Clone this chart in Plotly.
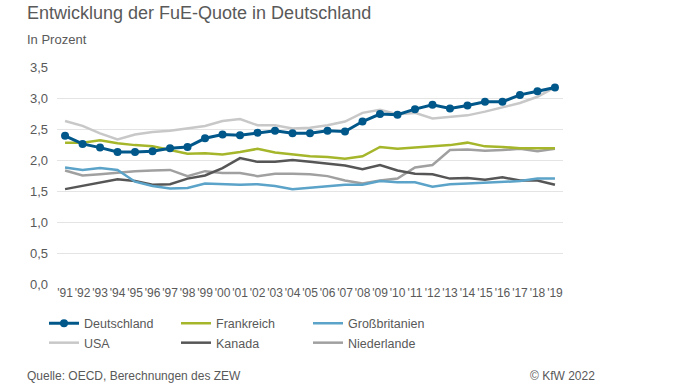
import plotly.graph_objects as go

years = ["'91","'92","'93","'94","'95","'96","'97","'98","'99","'00","'01","'02","'03","'04",
         "'05","'06","'07","'08","'09","'10","'11","'12","'13","'14","'15","'16","'17","'18","'19"]

deutschland = [2.39,2.26,2.20,2.13,2.13,2.14,2.19,2.21,2.35,2.41,2.40,2.44,2.47,2.43,
               2.43,2.47,2.46,2.62,2.74,2.73,2.82,2.89,2.83,2.88,2.94,2.94,3.05,3.11,3.17]
frankreich = [2.28,2.28,2.32,2.27,2.24,2.22,2.16,2.10,2.11,2.09,2.13,2.18,2.12,2.09,
              2.06,2.05,2.02,2.06,2.21,2.18,2.20,2.22,2.24,2.28,2.22,2.21,2.19,2.19,2.19]
grossbritannien = [1.88,1.84,1.87,1.84,1.65,1.58,1.54,1.55,1.62,1.61,1.60,1.61,1.58,1.53,
                   1.55,1.57,1.60,1.60,1.66,1.64,1.64,1.57,1.61,1.62,1.63,1.64,1.66,1.70,1.70]
usa = [2.63,2.55,2.43,2.33,2.41,2.45,2.47,2.51,2.55,2.63,2.66,2.56,2.56,2.51,
       2.52,2.56,2.62,2.76,2.81,2.74,2.76,2.67,2.70,2.72,2.78,2.85,2.92,3.02,3.17]
kanada = [1.53,1.58,1.64,1.69,1.66,1.60,1.61,1.70,1.75,1.87,2.03,1.97,1.97,2.00,
          1.97,1.94,1.91,1.85,1.92,1.83,1.78,1.77,1.70,1.71,1.68,1.72,1.67,1.67,1.60]
niederlande = [1.83,1.75,1.77,1.80,1.82,1.83,1.84,1.74,1.82,1.79,1.79,1.74,1.78,1.78,
               1.77,1.74,1.67,1.62,1.67,1.70,1.88,1.92,2.16,2.17,2.15,2.16,2.18,2.14,2.18]

y_ticks = [0, 0.5, 1.0, 1.5, 2.0, 2.5, 3.0, 3.5]
y_labels = ["0,0", "0,5", "1,0", "1,5", "2,0", "2,5", "3,0", "3,5"]

series = [
    ("Deutschland", deutschland, "#00578A", 3, True, "legend"),
    ("Frankreich", frankreich, "#A5B62B", 2.5, False, "legend"),
    ("Großbritanien", grossbritannien, "#5BA3C8", 2.5, False, "legend"),
    ("USA", usa, "#C8C8C8", 2.5, False, "legend2"),
    ("Kanada", kanada, "#565656", 2.5, False, "legend2"),
    ("Niederlande", niederlande, "#A0A0A0", 2.5, False, "legend2"),
]

x_idx = list(range(len(years)))
fig = go.Figure()
draw_order = [3, 5, 4, 2, 1, 0]
traces = {}
for i, (name, vals, color, width, markers, leg) in enumerate(series):
    traces[i] = go.Scatter(
        x=x_idx, y=vals, name=name,
        mode="lines+markers" if markers else "lines",
        line=dict(color=color, width=width),
        marker=dict(size=8, color=color) if markers else None,
        legendrank=i + 1, legend=leg,
    )
for i in draw_order:
    fig.add_trace(traces[i])

grey = "#595959"
legend_common = dict(
    orientation="h", xanchor="left", yanchor="top",
    entrywidth=87, entrywidthmode="pixels", itemwidth=30,
    font=dict(size=12.5, color=grey), tracegroupgap=0, traceorder="normal",
    bgcolor="rgba(0,0,0,0)",
)
fig.update_layout(
    width=696, height=392,
    margin=dict(l=57, r=133, t=67, b=108, autoexpand=False),
    paper_bgcolor="white", plot_bgcolor="white",
    font=dict(family="Liberation Sans, Arial, sans-serif", color=grey, size=12),
    showlegend=True,
    legend=dict(x=-0.0257, y=-0.113, **legend_common),
    legend2=dict(x=-0.0257, y=-0.203, **legend_common),
    xaxis=dict(
        range=[-0.46, 28.46], tickmode="array", tickvals=x_idx, ticktext=years,
        tickangle=0, showgrid=False, zeroline=False, showline=False, ticks="",
        tickfont=dict(size=12, color=grey), fixedrange=True,
    ),
    yaxis=dict(
        range=[0, 3.5], tickmode="array", tickvals=y_ticks, ticktext=y_labels,
        showgrid=True, gridcolor="#E4E4E4", gridwidth=1, zeroline=False,
        showline=False, ticks="", ticklabelstandoff=8,
        tickfont=dict(size=13, color=grey), fixedrange=True,
    ),
    annotations=[
        dict(text="Entwicklung der FuE-Quote in Deutschland", xref="paper", yref="paper",
             x=-0.0632, y=1.249, xanchor="left", yanchor="middle", showarrow=False,
             font=dict(size=18, color=grey)),
        dict(text="In Prozent", xref="paper", yref="paper",
             x=-0.0632, y=1.129, xanchor="left", yanchor="middle", showarrow=False,
             font=dict(size=13, color=grey)),
        dict(text="Quelle: OECD, Berechnungen des ZEW", xref="paper", yref="paper",
             x=-0.0632, y=-0.424, xanchor="left", yanchor="middle", showarrow=False,
             font=dict(size=12, color=grey)),
        dict(text="© KfW 2022", xref="paper", yref="paper",
             x=1.067, y=-0.424, xanchor="right", yanchor="middle", showarrow=False,
             font=dict(size=12, color=grey)),
    ],
)

fig.write_html("out.html", config={"displayModeBar": False},
               post_script="document.body.style.margin='0';")
